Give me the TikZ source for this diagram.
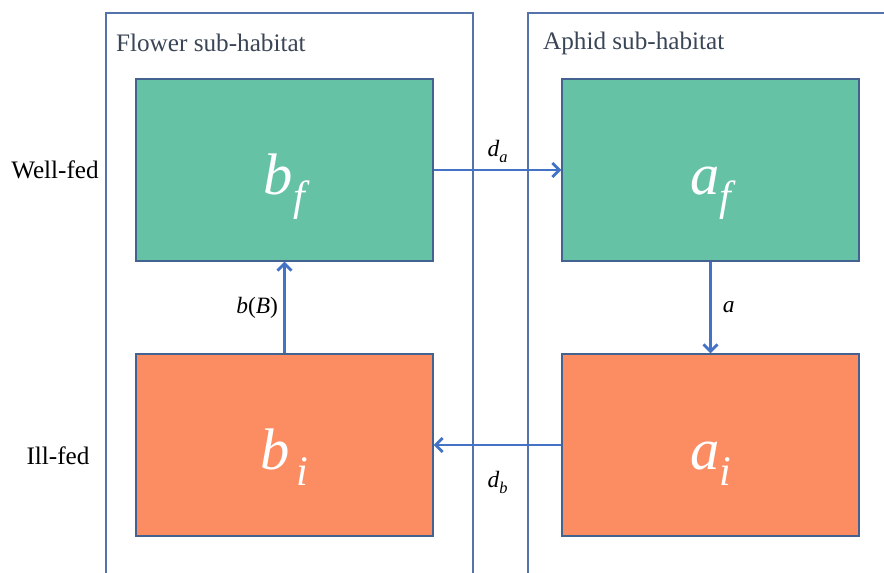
\documentclass[tikz,border=0pt]{standalone}
\usepackage{fontspec}
\setmainfont{Liberation Serif}
\usetikzlibrary{arrows.meta}
\definecolor{HabGreen}{HTML}{66C2A5}
\definecolor{HabOrange}{HTML}{FC8D62}
\definecolor{HabFrame}{HTML}{5473AB}
\definecolor{HabEdge}{HTML}{44628F}
\definecolor{HabArrow}{HTML}{4472C4}
\definecolor{HabText}{HTML}{3A4556}

\begin{document}
\begin{tikzpicture}[x=0.03cm,y=0.03cm,
  statebox/.style={draw=HabEdge,line width=0.9pt,minimum width=8.91cm,minimum height=5.46cm,
    inner sep=0pt,text=white,text height=41pt,text depth=0pt,font=\fontsize{50}{50}\selectfont\itshape},
  flow/.style={HabArrow,line width=2.5pt,-{Straight Barb[length=6pt,width=12pt,line width=2.5pt]}},
  ratelabel/.style={text=black,font=\fontsize{20}{20}\selectfont\itshape},
  rowlabel/.style={font=\fontsize{21.5}{21.5}\selectfont},
  panellabel/.style={anchor=west,text=HabText,font=\fontsize{21.5}{21.5}\selectfont}]
\path[use as bounding box] (0,0) rectangle (884,573);
% sub-habitat frames
\draw[HabFrame,line width=0.9pt] (106,-2) |- (473,560) -- (473,-2);
\draw[HabFrame,line width=0.9pt] (528,-2) |- (886,560);
\node[panellabel] (flower) at (112,530) {Flower sub-habitat};
\node[panellabel] (aphid) at (539,530) {Aphid sub-habitat};
% states
\node[statebox,fill=HabGreen] (bf) at (284.5,403) {b\raisebox{-14pt}{\fontsize{36}{36}\selectfont f}};
\node[statebox,fill=HabGreen] (af) at (710.5,403) {a\raisebox{-14pt}{\fontsize{36}{36}\selectfont f}};
\node[statebox,fill=HabOrange] (bi) at (284.5,128) {b\raisebox{-14pt}{\fontsize{36}{36}\selectfont\,i}};
\node[statebox,fill=HabOrange] (ai) at (710.5,128) {a\raisebox{-14pt}{\fontsize{36}{36}\selectfont i}};
% rows
\node[rowlabel] (wellfed) at (55,403) {Well-fed};
\node[rowlabel] (illfed) at (58,117) {Ill-fed};
% transitions
\draw[flow] (bf.east) -- node[ratelabel,above=2pt] {d\raisebox{-0.25em}{\fontsize{14}{14}\selectfont a}} (af.west);
\draw[flow] (af.south) -- node[ratelabel,right=6pt] {a} (ai.north);
\draw[flow] (ai.west) -- node[ratelabel,below=18pt] {d\raisebox{-0.25em}{\fontsize{14}{14}\selectfont b}} (bi.east);
\draw[flow] (bi.north) -- node[ratelabel,left=1pt] {b\textup{(}B\textup{)}} (bf.south);
\end{tikzpicture}
\end{document}
